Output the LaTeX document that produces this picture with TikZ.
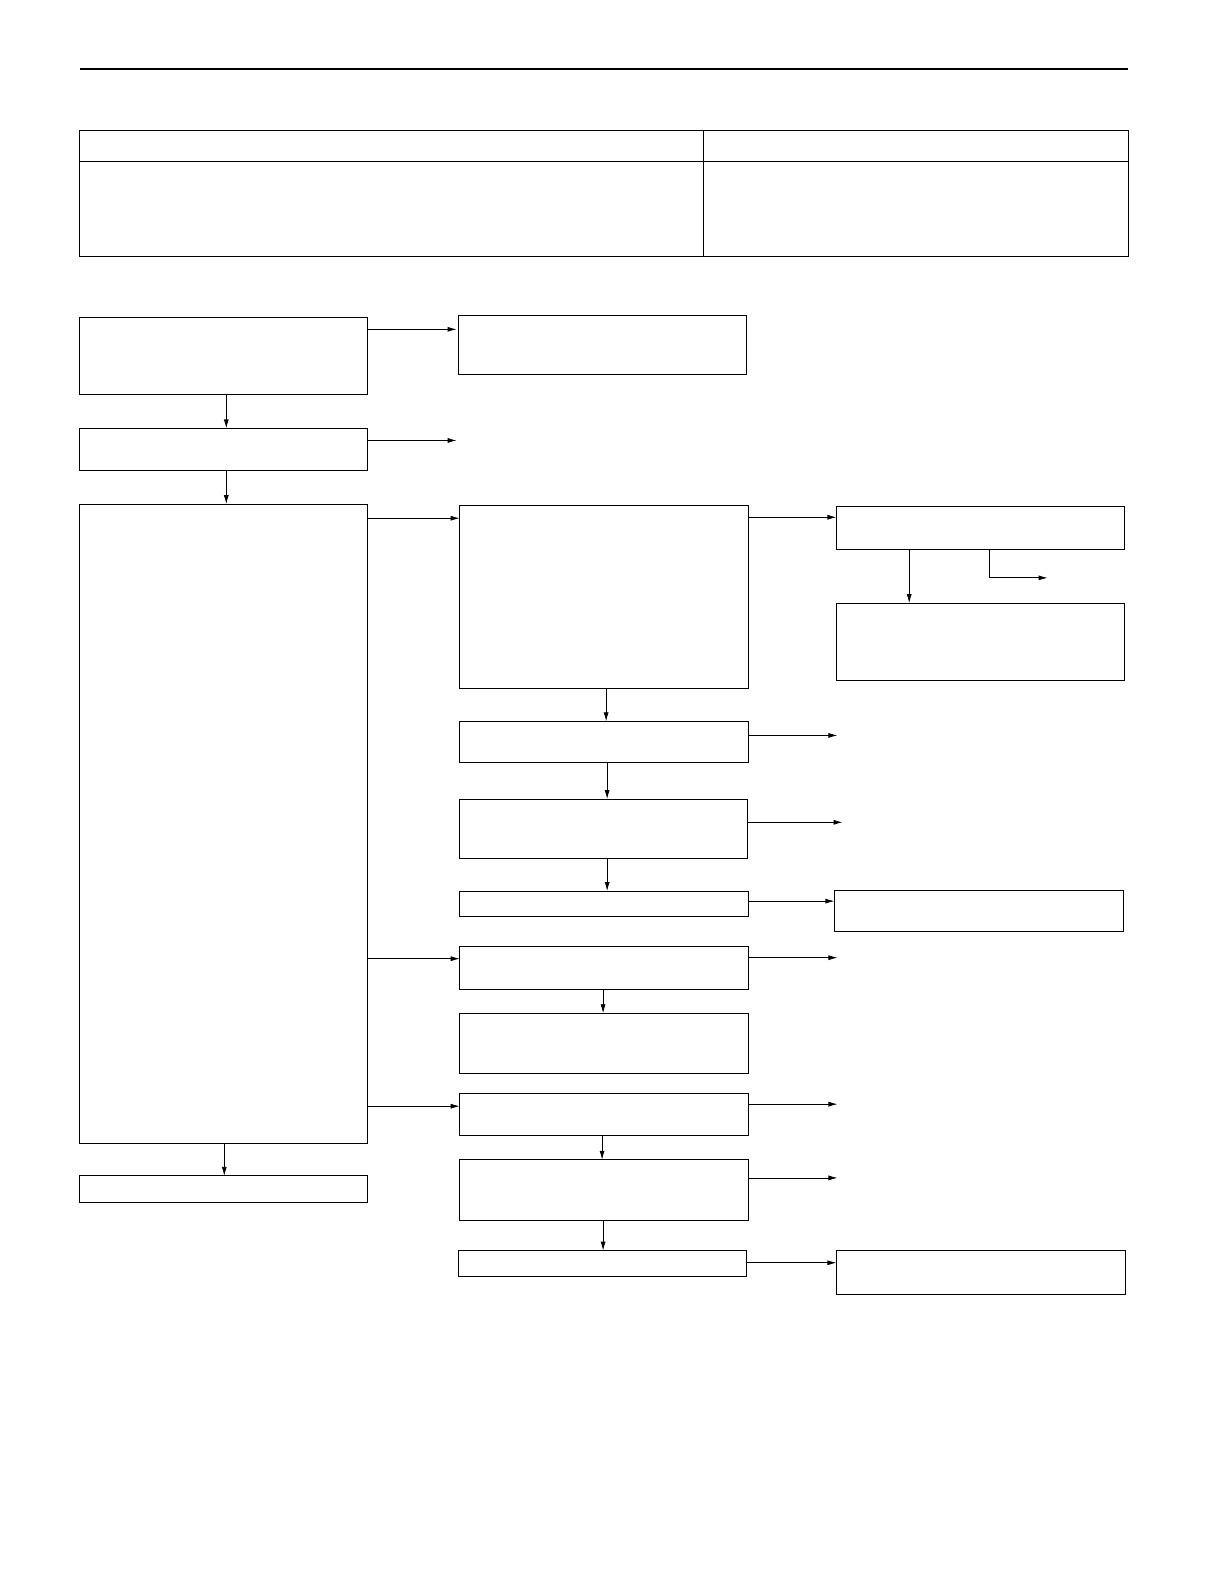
\documentclass[tikz,border=0pt]{standalone}
\usetikzlibrary{arrows.meta}
\begin{document}
\begin{tikzpicture}[x=1.01bp,y=-1.01bp,
  bx/.style={draw,line width=0.8pt},
  ar/.style={draw,line width=0.8pt,-{Latex[length=9pt,width=5pt]}}]
\useasboundingbox (0,0) rectangle (1212,1568);
\draw[line width=2pt] (79,68) -- (1117,68);
\draw[bx] (79,129) rectangle (1117,254);
\draw[bx] (79,160) -- (1117,160);
\draw[bx] (696,129) -- (696,254);
\def\bb#1#2#3#4#5{\path[bx] (#2,#3) rectangle (#4,#5); \coordinate (#1) at (#2,#3);}
\bb{A}{79}{314}{364}{390}
\bb{B}{454}{312}{739}{371}
\bb{C}{79}{424}{364}{466}
\bb{D}{79}{499}{364}{1132}
\bb{E}{455}{500}{741}{681}
\bb{F}{828}{501}{1113}{544}
\bb{G}{828}{597}{1113}{674}
\bb{H}{455}{714}{741}{755}
\bb{I}{455}{791}{740}{850}
\bb{J}{455}{882}{741}{907}
\bb{K}{826}{881}{1112}{922}
\bb{L}{455}{937}{741}{979}
\bb{M}{455}{1003}{741}{1063}
\bb{N}{455}{1082}{741}{1124}
\bb{O}{455}{1148}{741}{1208}
\bb{P}{454}{1238}{739}{1263}
\bb{Q}{828}{1238}{1114}{1281}
\bb{R}{79}{1164}{364}{1190}
\draw[ar] (364,326) -- (452,326);
\draw[ar] (224,390) -- (224,424);
\draw[ar] (364,436) -- (452,436);
\draw[ar] (224,466) -- (224,499);
\draw[ar] (364,513) -- (455,513);
\draw[ar] (741,512) -- (828,512);
\draw[ar] (900,544) -- (900,597);
\draw[ar] (979,544) -- (979,572) -- (1037,572);
\draw[ar] (600,681) -- (600,714);
\draw[ar] (741,728) -- (829,728);
\draw[ar] (601,755) -- (601,791);
\draw[ar] (740,814) -- (834,814);
\draw[ar] (601,850) -- (601,882);
\draw[ar] (741,892) -- (826,892);
\draw[ar] (364,949) -- (455,949);
\draw[ar] (741,948) -- (829,948);
\draw[ar] (597,979) -- (597,1003);
\draw[ar] (364,1095) -- (455,1095);
\draw[ar] (741,1093) -- (829,1093);
\draw[ar] (596,1124) -- (596,1148);
\draw[ar] (741,1166) -- (829,1166);
\draw[ar] (597,1208) -- (597,1238);
\draw[ar] (739,1250) -- (828,1250);
\draw[ar] (222,1132) -- (222,1164);
\end{tikzpicture}
\end{document}
